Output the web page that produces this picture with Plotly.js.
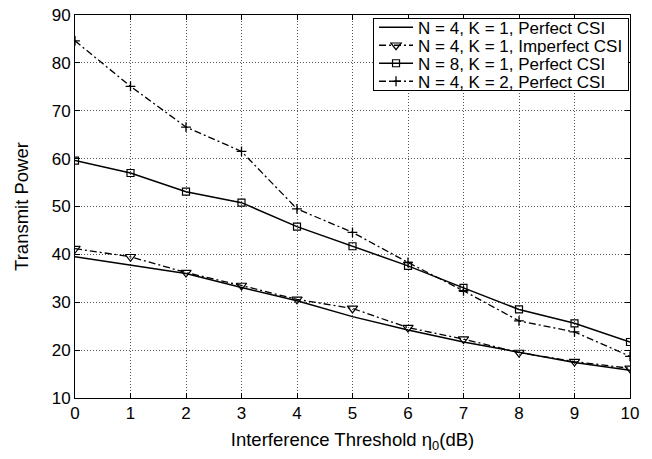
<!DOCTYPE html>
<html><head><meta charset="utf-8">
<script src="https://cdn.plot.ly/plotly-3.0.1.min.js"></script>
<style>html,body{margin:0;padding:0;background:#fff}#chart{width:652px;height:459px}</style>
</head><body><div id="chart"></div>
<script>
const thresholds = [0,1,2,3,4,5,6,7,8,9,10];
const perfectN4K1 = [39.5,37.8,36.0,33.1,30.3,27.0,24.2,21.7,19.6,17.4,15.8];
const imperfectN4K1 = [41.2,39.5,36.2,33.5,30.6,28.7,24.7,22.3,19.5,17.6,16.2];
const perfectN8K1 = [59.6,57.0,53.1,50.8,45.8,41.7,37.6,33.0,28.5,25.6,21.7];
const perfectN4K2 = [84.6,75.1,66.6,61.5,49.5,44.6,38.3,32.4,26.1,23.8,18.7];
const names = ["N = 4, K = 1, Perfect CSI","N = 4, K = 1, Imperfect CSI","N = 8, K = 1, Perfect CSI","N = 4, K = 2, Perfect CSI"];
const dashdot = "7px,3px,2px,3px";
const traces = [
 {x:thresholds,y:perfectN4K1,name:names[0],mode:"lines",line:{color:"#000",width:1.5}},
 {x:thresholds,y:imperfectN4K1,name:names[1],mode:"lines+markers",line:{color:"#000",width:1.3,dash:dashdot},
  marker:{symbol:"triangle-down-open",size:9,color:"#000",line:{width:1.2}}},
 {x:thresholds,y:perfectN8K1,name:names[2],mode:"lines+markers",line:{color:"#000",width:1.5},
  marker:{symbol:"square-open",size:7,color:"#000",line:{width:1.2}}},
 {x:thresholds,y:perfectN4K2,name:names[3],mode:"lines+markers",line:{color:"#000",width:1.3,dash:dashdot},
  marker:{symbol:"cross-thin-open",size:7,color:"#000",line:{width:1.3,color:"#000"}}}
];
const font = "Liberation Sans, Arial, sans-serif";
const grid = {showgrid:true,gridcolor:"#555",griddash:"1px,2px",gridwidth:1};
const layout = {
 width:652,height:459,
 margin:{l:75,r:22,t:15,b:61},
 paper_bgcolor:"#fff",plot_bgcolor:"#fff",
 font:{family:font,color:"#000",size:17},
 showlegend:true,
 legend:{x:0.537,y:0.993,xanchor:"left",yanchor:"top",bgcolor:"#fff",bordercolor:"#000",borderwidth:1,
   font:{size:17,family:font},tracegroupgap:0,itemwidth:34},
 xaxis:Object.assign({range:[0,10],dtick:1,tick0:0,showline:true,linecolor:"#000",linewidth:1,mirror:"ticks",
   ticks:"inside",ticklen:5,tickcolor:"#000",
   zeroline:false,tickfont:{size:17},
   title:{text:"Interference Threshold η<sub>0</sub>(dB)",font:{size:18.5},standoff:10}},grid),
 yaxis:Object.assign({range:[10,90],dtick:10,showline:true,linecolor:"#000",linewidth:1,mirror:"ticks",
   ticks:"inside",ticklen:5,tickcolor:"#000",
   zeroline:false,tickfont:{size:17},
   title:{text:"Transmit Power",font:{size:18.5},standoff:18}},grid)
};
Plotly.newPlot("chart",traces,layout,{staticPlot:true}).then(function(gd){
  // tighten legend row spacing to match the reference
  const items = gd.querySelectorAll(".legend .traces");
  const step = 18;
  let y0 = null;
  items.forEach(function(it,i){
    const m = /translate\(([-\d.]+),\s*([-\d.]+)\)/.exec(it.getAttribute("transform")||"");
    if(!m) return;
    if(y0===null) y0 = parseFloat(m[2]) - 9;
    it.setAttribute("transform","translate("+m[1]+","+(y0+i*step)+")");
  });
  const bg = gd.querySelector(".legend .bg");
  if(bg && y0!==null){ bg.setAttribute("height", String(y0 + (items.length-1)*step + 9)); }
});
</script></body></html>
